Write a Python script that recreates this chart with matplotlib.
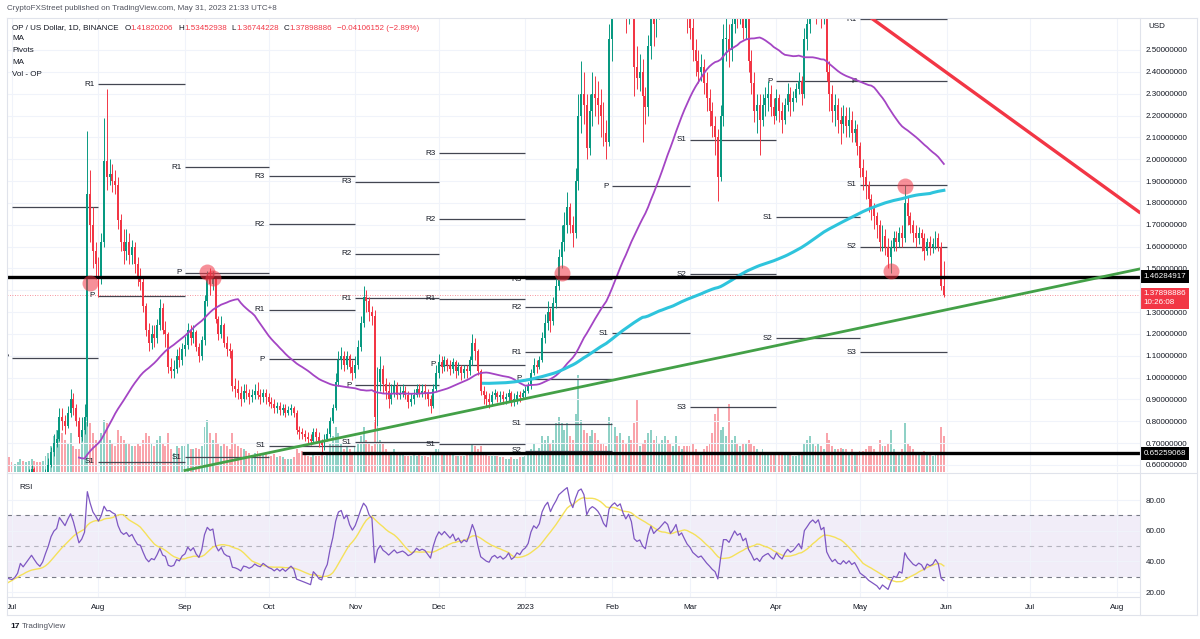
import numpy as np
import pandas as pd
import matplotlib
matplotlib.use('Agg')
import matplotlib.pyplot as plt
import matplotlib.dates as mdates
import matplotlib.transforms as mtransforms

plt.rcParams['font.family'] = ['Liberation Sans', 'DejaVu Sans']

# daily candles, OP/USD, Jun 1 2022 - May 31 2023 (June is left of the view, feeds the MAs)
close = [
    0.95,0.88,0.83,0.85,0.82,0.90,0.78,0.72,0.70,0.68, 0.62,0.56,0.52,0.55,0.58,0.50,0.52,0.42,0.48,0.50, 0.53,0.50,0.56,0.60,0.62,0.58,0.56,0.52,0.50,0.48,
    0.47,0.48,0.50,0.55,0.52,0.54,0.56,0.58,0.55,0.52, 0.50,0.52,0.56,0.60,0.66,0.70,0.72,0.82,0.80,0.78, 0.84,0.90,0.86,0.80,0.73,0.76,0.82,1.84,1.70,1.58, 1.52,
    1.45,1.62,1.99,1.92,1.93,1.90,1.88,1.72,1.62,1.58, 1.62,1.56,1.60,1.52,1.45,1.44,1.33,1.22,1.16,1.20, 1.18,1.24,1.32,1.22,1.20,1.05,1.03,1.04,1.10,1.08, 1.13,
    1.15,1.22,1.18,1.21,1.14,1.10,1.17,1.35,1.46,1.43, 1.45,1.27,1.20,1.24,1.16,1.13,1.12,0.96,0.95,0.93, 0.90,0.94,0.93,0.91,0.92,0.94,0.92,0.91,0.93,0.91,
    0.89,0.88,0.86,0.87,0.85,0.86,0.84,0.85,0.86,0.84, 0.76,0.75,0.74,0.73,0.72,0.71,0.75,0.73,0.70,0.69, 0.72,0.74,0.80,0.86,0.98,1.08,1.10,1.06,1.10,1.05, 1.02,
    1.06,1.14,1.25,1.37,1.35,1.30,1.28,0.82,0.98,1.04, 0.97,0.94,0.90,0.93,0.96,0.92,0.93,0.94,0.92,0.89, 0.90,0.92,0.95,0.93,0.94,0.93,0.90,0.87,0.95,1.02,
    1.07,1.05,1.08,1.06,1.04,1.07,1.03,1.05,1.02,1.04, 1.03,1.08,1.16,1.12,1.03,0.94,0.92,0.90,0.89,0.92, 0.93,0.91,0.92,0.90,0.91,0.93,0.89,0.90,0.92,0.91, 0.93,
    0.94,0.96,1.02,1.06,1.05,1.08,1.18,1.25,1.30,1.26, 1.34,1.42,1.55,1.62,1.70,1.78,1.70,1.66,1.90,2.20, 2.30,2.25,2.05,2.22,2.30,2.28,2.25,2.20,2.12,2.08, 2.55,
    2.70,2.80,2.76,2.85,2.74,2.66,2.80,2.70,2.42,2.37, 2.40,2.29,2.24,2.52,2.75,2.62,2.70,2.76,2.85,2.94, 2.90,2.76,2.85,2.98,2.80,2.86,2.76,2.66,
    2.60,2.50,2.45,2.40,2.42,2.35,2.28,2.22,2.15,2.10, 1.92,2.20,2.55,2.55,2.50,2.62,2.75,2.68,2.72,2.60, 2.65,2.45,2.35,2.22,2.25,2.18,2.25,2.28,2.30,2.24, 2.20,
    2.28,2.22,2.18,2.25,2.30,2.26,2.28,2.32,2.36,2.30, 2.55,2.62,2.70,2.75,2.72,2.78,2.68,2.72,2.40,2.30, 2.22,2.25,2.18,2.16,2.20,2.15,2.18,2.12,2.14,2.06,
    1.96,1.92,1.88,1.82,1.78,1.74,1.70,1.62,1.65,1.60, 1.55,1.60,1.64,1.62,1.66,1.64,1.80,1.74,1.70,1.66, 1.64,1.66,1.64,1.58,1.62,1.60,1.61,1.64,1.60,1.41820206, 1.37898886,
]
high = [
    1.30,0.97,0.90,0.88,0.87,0.93,0.91,0.80,0.75,0.72, 0.70,0.64,0.58,0.58,0.61,0.59,0.55,0.53,0.50,0.52, 0.55,0.55,0.58,0.63,0.65,0.63,0.60,0.58,0.54,0.52,
    0.50,0.51,0.53,0.57,0.56,0.56,0.58,0.60,0.59,0.56, 0.53,0.54,0.58,0.63,0.68,0.74,0.76,0.86,0.86,0.83, 0.87,0.95,0.93,0.88,0.82,0.82,0.88,2.13,1.95,1.78, 1.62,
    1.55,1.66,2.19,2.32,2.00,1.98,1.95,1.92,1.75,1.68, 1.68,1.66,1.63,1.62,1.55,1.50,1.46,1.34,1.25,1.24, 1.24,1.27,1.36,1.34,1.26,1.21,1.09,1.08,1.13,1.14, 1.16,
    1.19,1.25,1.24,1.24,1.22,1.16,1.19,1.38,1.49,1.50, 1.49,1.46,1.28,1.28,1.25,1.19,1.16,1.13,1.00,0.99, 0.96,0.97,0.97,0.95,0.95,0.97,0.98,0.95,0.95,0.95,
    0.93,0.91,0.90,0.89,0.89,0.88,0.88,0.87,0.88,0.87, 0.85,0.78,0.77,0.76,0.75,0.74,0.77,0.77,0.75,0.72, 0.74,0.77,0.82,0.88,1.02,1.12,1.14,1.12,1.12,1.11, 1.08,
    1.10,1.17,1.28,1.42,1.40,1.37,1.33,1.31,1.05,1.10, 1.06,1.00,0.98,0.97,0.99,0.98,0.96,0.97,0.96,0.94, 0.93,0.95,0.97,0.97,0.97,0.97,0.95,0.92,0.97,1.06,
    1.11,1.10,1.10,1.09,1.08,1.09,1.08,1.07,1.06,1.06, 1.06,1.10,1.20,1.18,1.13,1.04,0.96,0.94,0.93,0.94, 0.95,0.94,0.94,0.94,0.93,0.95,0.94,0.93,0.94,0.94, 0.95,
    0.96,0.98,1.04,1.09,1.08,1.10,1.21,1.29,1.35,1.32, 1.37,1.47,1.59,1.70,1.76,1.85,1.80,1.74,1.96,2.30, 2.45,2.40,2.30,2.30,2.40,2.38,2.36,2.32,2.26,2.18, 2.62,
    2.80,2.90,2.88,2.93,2.88,2.78,2.88,2.85,2.74,2.52, 2.48,2.46,2.33,2.57,2.85,2.85,2.80,2.85,2.95,3.04, 3.02,2.94,2.93,3.12,3.02,2.94,2.90,2.80,
    2.75,2.65,2.55,2.50,2.48,2.46,2.40,2.32,2.26,2.20, 2.14,2.25,2.62,2.68,2.62,2.70,2.85,2.80,2.82,2.75, 2.72,2.70,2.50,2.40,2.30,2.30,2.30,2.33,2.36,2.34, 2.28,
    2.32,2.30,2.26,2.28,2.35,2.33,2.31,2.35,2.40,2.38, 2.60,2.70,2.78,2.85,2.80,2.86,2.80,2.80,2.75,2.45, 2.34,2.30,2.28,2.24,2.25,2.24,2.24,2.22,2.18,2.16,
    2.08,2.00,1.95,1.90,1.84,1.80,1.76,1.72,1.70,1.68, 1.64,1.63,1.67,1.67,1.69,1.70,1.88,1.83,1.76,1.72, 1.70,1.69,1.68,1.66,1.64,1.65,1.64,1.67,1.66,1.62, 1.53452938,
]
low = [
    0.85,0.84,0.80,0.81,0.79,0.80,0.76,0.70,0.68,0.65, 0.60,0.54,0.48,0.50,0.53,0.48,0.48,0.40,0.41,0.46, 0.49,0.48,0.49,0.55,0.58,0.56,0.54,0.50,0.48,0.46,
    0.45,0.46,0.47,0.49,0.50,0.51,0.53,0.54,0.53,0.50, 0.48,0.49,0.51,0.55,0.59,0.64,0.68,0.71,0.76,0.74, 0.77,0.82,0.83,0.78,0.70,0.71,0.74,0.78,1.62,1.50, 1.45,
    1.37,1.43,1.60,1.86,1.88,1.85,1.84,1.68,1.58,1.52, 1.54,1.52,1.52,1.48,1.42,1.40,1.30,1.19,1.12,1.13, 1.14,1.16,1.22,1.20,1.14,1.02,1.00,1.00,1.02,1.05, 1.06,
    1.10,1.13,1.15,1.16,1.12,1.07,1.08,1.15,1.33,1.38, 1.40,1.25,1.17,1.18,1.14,1.10,1.09,0.94,0.91,0.90, 0.87,0.89,0.90,0.88,0.89,0.90,0.90,0.88,0.89,0.88,
    0.87,0.86,0.84,0.84,0.83,0.83,0.82,0.83,0.83,0.82, 0.74,0.72,0.72,0.71,0.70,0.69,0.70,0.71,0.68,0.66, 0.67,0.71,0.73,0.79,0.85,0.96,1.04,1.03,1.04,1.02, 0.99,
    1.00,1.04,1.12,1.23,1.30,1.26,1.24,0.76,0.78,0.94, 0.93,0.90,0.86,0.88,0.91,0.90,0.90,0.91,0.90,0.86, 0.87,0.88,0.91,0.91,0.91,0.90,0.87,0.84,0.86,0.94,
    1.00,1.02,1.03,1.03,1.01,1.02,1.00,1.01,0.99,1.00, 1.00,1.01,1.06,1.08,1.01,0.92,0.88,0.87,0.86,0.87, 0.90,0.89,0.89,0.88,0.88,0.89,0.87,0.87,0.88,0.89, 0.90,
    0.91,0.93,0.95,1.01,1.02,1.04,1.07,1.16,1.22,1.21, 1.24,1.32,1.40,1.50,1.58,1.66,1.66,1.60,1.64,1.86, 2.12,2.16,2.00,2.02,2.15,2.20,2.16,2.10,2.06,2.00, 2.06,
    2.45,2.65,2.66,2.70,2.68,2.58,2.62,2.66,2.29,2.32, 2.31,2.08,2.16,2.20,2.46,2.52,2.56,2.64,2.72,2.82, 2.80,2.71,2.72,2.80,2.76,2.74,2.68,2.58,
    2.55,2.45,2.38,2.35,2.36,2.30,2.22,2.15,2.10,2.02, 1.81,1.90,2.15,2.45,2.42,2.45,2.58,2.60,2.62,2.55, 2.55,2.40,2.30,2.17,2.12,2.02,2.15,2.20,2.22,2.20, 2.16,
    2.18,2.17,2.12,2.16,2.22,2.20,2.22,2.26,2.30,2.25, 2.28,2.50,2.58,2.66,2.62,2.68,2.60,2.62,2.36,2.22, 2.17,2.15,2.12,2.07,2.12,2.10,2.10,2.08,2.08,2.02,
    1.92,1.86,1.82,1.76,1.72,1.68,1.64,1.58,1.58,1.56, 1.50,1.48,1.58,1.58,1.60,1.60,1.62,1.70,1.66,1.62, 1.60,1.61,1.58,1.54,1.56,1.56,1.57,1.59,1.58,1.40, 1.36744228,
]
volume = [
    40,30,24,20,16,18,15,14,12,12, 14,18,22,16,14,16,14,22,18,14, 12,11,12,14,12,10,10,10,9,9,
    6,5,6,8,7,6,7,8,7,6, 6,7,10,12,16,22,26,34,24,20, 18,24,16,14,14,22,30,42,30,24, 20,
    22,24,32,30,20,18,16,26,22,20, 18,17,16,16,18,16,20,24,22,18, 16,20,22,18,16,24,14,12,16,15, 16,
    16,18,14,14,15,14,16,28,32,24, 20,24,18,16,18,16,14,24,18,16, 15,14,13,12,10,12,13,11,12,11,
    10,10,11,9,10,9,8,8,8,9, 14,12,13,11,10,9,11,10,10,11, 10,12,18,22,28,24,18,14,16,14, 12,
    16,18,22,28,20,17,16,32,28,20, 18,14,12,12,14,12,11,11,10,10, 10,11,10,11,10,10,9,11,12,14,
    14,12,12,11,11,12,10,10,10,10, 11,12,18,16,14,16,12,11,10,10, 10,10,9,9,8,8,9,8,8,9, 9,
    10,12,14,17,13,15,22,20,22,18, 20,30,34,30,26,30,22,20,36,60, 32,26,24,22,26,24,20,18,17,16, 34,
    30,28,22,24,20,18,22,20,30,45, 16,18,20,24,26,20,22,18,20,22, 20,18,16,22,16,14,16,16,
    16,18,14,12,11,14,16,18,24,36, 40,26,28,22,42,20,22,18,16,18, 17,20,18,16,14,12,14,12,11,12, 12,
    11,11,12,11,12,11,10,10,11,12, 18,20,22,18,16,18,16,14,24,20, 16,14,14,15,14,14,12,14,11,11,
    13,13,14,16,16,14,12,20,16,16, 18,26,14,11,12,14,30,18,16,14, 12,12,11,13,12,11,10,11,12,28, 22,
]

# monthly pivot levels: (month start, label, price)
pivots = [
    ('2022-07-01', 'R1', 1.781), ('2022-07-01', 'P', 1.090),
    ('2022-08-01', 'R1', 2.344), ('2022-08-01', 'P', 1.374), ('2022-08-01', 'S1', 0.614),
    ('2022-09-01', 'R1', 1.964), ('2022-09-01', 'P', 1.479), ('2022-09-01', 'S1', 0.636),
    ('2022-10-01', 'R3', 1.923), ('2022-10-01', 'R2', 1.703), ('2022-10-01', 'R1', 1.310),
    ('2022-10-01', 'P', 1.085), ('2022-10-01', 'S1', 0.687),
    ('2022-11-01', 'R3', 1.896), ('2022-11-01', 'R2', 1.566), ('2022-11-01', 'R1', 1.364),
    ('2022-11-01', 'P', 0.966), ('2022-11-01', 'S1', 0.705),
    ('2022-12-01', 'R3', 2.028), ('2022-12-01', 'R2', 1.726), ('2022-12-01', 'R1', 1.360),
    ('2022-12-01', 'P', 1.058), ('2022-12-01', 'S1', 0.696),
    ('2023-01-01', 'R3', 1.451), ('2023-01-01', 'R2', 1.323), ('2023-01-01', 'R1', 1.117),
    ('2023-01-01', 'P', 0.994), ('2023-01-01', 'S1', 0.788), ('2023-01-01', 'S2', 0.664),
    ('2023-02-01', 'P', 1.877), ('2023-02-01', 'S1', 1.204),
    ('2023-03-01', 'S1', 2.088), ('2023-03-01', 'S2', 1.474), ('2023-03-01', 'S3', 0.865),
    ('2023-04-01', 'P', 2.358), ('2023-04-01', 'S1', 1.735), ('2023-04-01', 'S2', 1.181),
    ('2023-05-01', 'R1', 2.640), ('2023-05-01', 'P', 2.358), ('2023-05-01', 'S1', 1.882),
    ('2023-05-01', 'S2', 1.598), ('2023-05-01', 'S3', 1.117),
]

# drawings
support_level = 1.46284917
low_level = 0.65259068
low_level_start = '2022-10-13'
green_trend = (['2022-09-01', '2023-08-09'], [0.575, 1.497])
red_trend = (['2023-04-20', '2023-08-09'], [2.785, 1.758])
circle_dates = ['2022-07-29', '2022-09-09', '2022-09-11', '2023-01-14', '2023-05-12', '2023-05-17']
circle_prices = [1.433, 1.483, 1.456, 1.479, 1.488, 1.877]

month_ticks = pd.date_range('2022-07-01', '2023-08-01', freq='MS')
month_labels = ['Jul', 'Aug', 'Sep', 'Oct', 'Nov', 'Dec', '2023', 'Feb', 'Mar', 'Apr', 'May', 'Jun', 'Jul', 'Aug']
price_ticks = [0.6, 0.7, 0.8, 0.9, 1.0, 1.1, 1.2, 1.3, 1.5, 1.6, 1.7, 1.8, 1.9, 2.0, 2.1, 2.2, 2.3, 2.4, 2.5]

dates = pd.date_range('2022-06-01', periods=len(close), freq='D')
c = np.array(close)
o = np.r_[1.10, c[:-1]]
h = np.maximum(np.array(high), np.maximum(o, c))
l = np.minimum(np.array(low), np.minimum(o, c))
v = np.array(volume, dtype=float)
x = mdates.date2num(dates)

s = pd.Series(c)
ma_short = s.rolling(55).mean()
ma_long = s.rolling(200).mean()
d = s.diff()
up = d.clip(lower=0).ewm(alpha=1/14, adjust=False).mean()
dn = (-d.clip(upper=0)).ewm(alpha=1/14, adjust=False).mean()
rsi = 100 - 100 / (1 + up / dn)
rsi_ma = rsi.rolling(14).mean()

GREEN = '#089981'
RED = '#f23645'
TXT = '#131722'
GRID = '#f0f3fa'
FS = 5.8

W, H = 1200, 639
fig = plt.figure(figsize=(W / 100, H / 100), dpi=100)
fig.patch.set_facecolor('white')

def box(px0, py0, px1, py1):
    return [px0 / W, 1 - py1 / H, (px1 - px0) / W, (py1 - py0) / H]

jul1 = mdates.date2num(pd.Timestamp('2022-07-01'))
ppd = 2.79
xlim = (jul1 - 5 / ppd, jul1 + (1140 - 12) / ppd)

axv = fig.add_axes(box(7, 18, 1140, 472))
ax = fig.add_axes(box(7, 18, 1140, 472), sharex=axv)
axr = fig.add_axes(box(7, 474, 1140, 597), sharex=axv)
ax.patch.set_visible(False)

for a in (ax, axv, axr):
    for sp in a.spines.values():
        sp.set_visible(False)
    a.set_xlim(*xlim)

# volume
up_day = c >= o
axv.bar(x, v, width=0.7, color=np.where(up_day, GREEN, RED), alpha=0.45, linewidth=0)
axv.set_ylim(0, v.max() / 0.214)
axv.set_yticks([])
axv.tick_params(bottom=False, labelbottom=False)

# price panel
ax.set_ylim(0.5678, 2.6465)
ax.yaxis.tick_right()
ax.set_yticks(np.round(np.arange(0.6, 2.51, 0.1), 2), minor=True)
ax.set_yticks(price_ticks)
ax.set_yticklabels(['%.8f' % p for p in price_ticks])
ax.tick_params(axis='y', which='both', length=0, pad=4, labelsize=FS, labelcolor=TXT)
ax.tick_params(axis='x', bottom=False, labelbottom=False)
ax.set_xticks(mdates.date2num(month_ticks))
ax.grid(True, which='both', color=GRID, lw=0.8, zorder=0)

for ms, lab, lev in pivots:
    x0 = mdates.date2num(pd.Timestamp(ms))
    x1 = mdates.date2num(pd.Timestamp(ms) + pd.offsets.MonthBegin(1))
    ax.hlines(lev, x0, x1, color='#434651', lw=0.9, zorder=2)
    ax.text(x0 - 1.3, lev, lab, ha='right', va='center', fontsize=FS, color=TXT, clip_on=True, zorder=2)

ax.vlines(x, l, h, color=np.where(up_day, GREEN, RED), lw=0.7, zorder=3)
ax.bar(x, np.maximum(np.abs(c - o), 0.004), bottom=np.minimum(o, c), width=0.7,
       color=np.where(up_day, GREEN, RED), linewidth=0, zorder=3)

ax.plot(x, ma_short, color='#a445c4', lw=1.3, zorder=4)
ax.plot(x, ma_long, color='#2ec4dc', lw=2.2, zorder=4)

ax.axhline(close[-1], color=RED, ls=(0, (1, 2)), lw=0.6, alpha=0.7, zorder=2)
ax.axhline(support_level, color='black', lw=2.4, zorder=5)
ax.hlines(low_level, mdates.date2num(pd.Timestamp(low_level_start)), xlim[1], color='black', lw=2.4, zorder=5)
ax.plot(mdates.date2num(pd.to_datetime(green_trend[0])), green_trend[1], color='#43a047', lw=2, zorder=5)
ax.plot(mdates.date2num(pd.to_datetime(red_trend[0])), red_trend[1], color='#f23645', lw=2.4, zorder=5)
ax.plot(mdates.date2num(pd.to_datetime(circle_dates)), circle_prices, 'o', ms=11.5, color=RED,
        alpha=0.55, mec='none', zorder=6)

# price scale labels
tr = mtransforms.blended_transform_factory(ax.transAxes, ax.transData)
ax.text(1.003, support_level, '1.46284917', transform=tr, ha='left', va='center', fontsize=FS,
        color='white', bbox=dict(boxstyle='square,pad=0.35', fc='black', ec='none'), zorder=10, clip_on=False)
ax.text(1.003, low_level, '0.65259068', transform=tr, ha='left', va='center', fontsize=FS,
        color='white', bbox=dict(boxstyle='square,pad=0.35', fc='black', ec='none'), zorder=10, clip_on=False)
ax.text(1.003, close[-1] + 0.02, '1.37898886\n10:26:08', transform=tr, ha='left', va='top', fontsize=FS,
        color='white', linespacing=1.3, bbox=dict(boxstyle='square,pad=0.35', fc=RED, ec='none'),
        zorder=10, clip_on=False)

# RSI panel
axr.set_ylim(16.74, 96.96)
axr.axhspan(30, 70, color='#7e57c2', alpha=0.1, lw=0)
axr.axhline(70, color='#787b86', ls=(0, (4, 4)), lw=0.8)
axr.axhline(30, color='#787b86', ls=(0, (4, 4)), lw=0.8)
axr.axhline(50, color='#787b86', ls=(0, (4, 4)), lw=0.8, alpha=0.5)
axr.plot(x, rsi_ma, color='#f5e15a', lw=1.0)
axr.plot(x, rsi, color='#7e57c2', lw=0.9)
axr.yaxis.tick_right()
axr.set_yticks([20, 40, 60, 80])
axr.set_yticklabels(['20.00', '40.00', '60.00', '80.00'])
axr.tick_params(axis='y', length=0, pad=4, labelsize=FS, labelcolor=TXT)
axr.set_xticks(mdates.date2num(month_ticks))
axr.set_xticklabels(month_labels)
axr.tick_params(axis='x', length=0, pad=5, labelsize=FS, labelcolor=TXT)
axr.grid(True, color=GRID, lw=0.8, zorder=0)
axr.text(12 / 1133, 0.92, 'RSI', transform=axr.transAxes, fontsize=FS, color=TXT, va='top')

# frame
for (x0, y0, x1, y1) in [(7, 18, 1197, 18), (7, 615, 1197, 615), (7, 18, 7, 615), (1197, 18, 1197, 615),
                         (7, 473, 1197, 473), (7, 597, 1140, 597), (1140, 18, 1140, 615)]:
    fig.add_artist(plt.Line2D([x0 / W, x1 / W], [1 - y0 / H, 1 - y1 / H], color='#e0e3eb', lw=0.8))

# header texts
fig.text(7 / W, 1 - 9 / H, 'CryptoFXStreet published on TradingView.com, May 31, 2023 21:33 UTC+8',
         fontsize=FS, color='#50535e', va='center')
renderer = fig.canvas.get_renderer()
px = 12
for txt, col, gap in [('OP / US Dollar, 1D, BINANCE', TXT, 6), ('O', TXT, 0), ('1.41820206', RED, 5),
                      ('H', TXT, 0), ('1.53452938', RED, 5), ('L', TXT, 0), ('1.36744228', RED, 5),
                      ('C', TXT, 0), ('1.37898886', RED, 5), ('\u22120.04106152 (\u22122.89%)', RED, 0)]:
    t = fig.text(px / W, 1 - 28 / H, txt, fontsize=FS, color=col, va='center')
    px += t.get_window_extent(renderer=renderer).width + gap
for yy, txt in [(39, 'MA'), (51, 'Pivots'), (62, 'MA'), (74, 'Vol - OP')]:
    fig.text(12 / W, 1 - yy / H, txt, fontsize=FS, color=TXT, va='center')
fig.text(1148 / W, 1 - 27 / H, 'USD', fontsize=FS, color=TXT, va='center')
fig.text(10 / W, 1 - 626 / H, '17', fontsize=6, color=TXT, va='center', weight='bold')
fig.text(22 / W, 1 - 626 / H, 'TradingView', fontsize=FS, color='#50535e', va='center')

fig.savefig('out.png', dpi=100, facecolor='white')
